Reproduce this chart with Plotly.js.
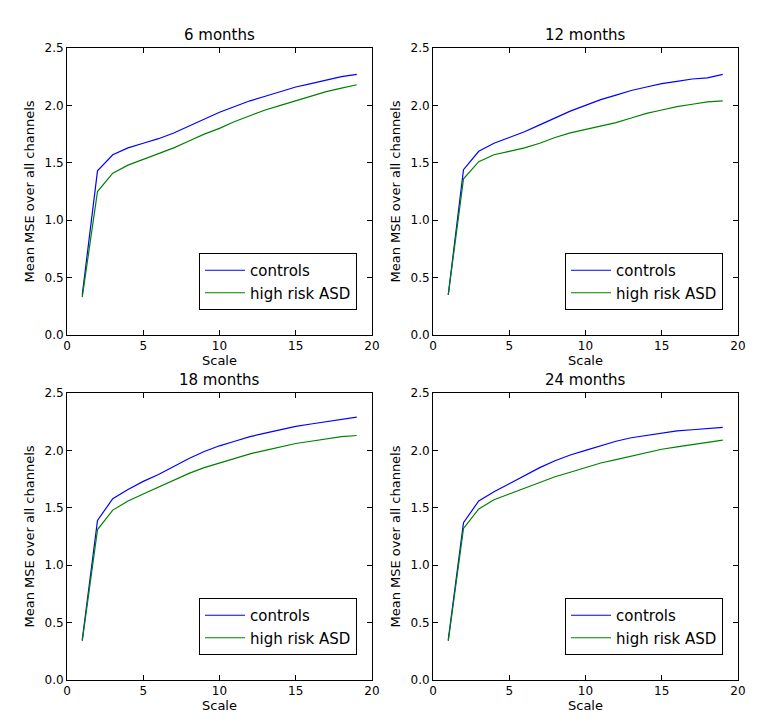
<!DOCTYPE html>
<html>
<head>
<meta charset="utf-8">
<script src="https://cdn.plot.ly/plotly-3.0.1.min.js"></script>
<style>body{margin:0;background:#fff}</style>
</head>
<body>
<div id="chart" style="width:777px;height:728px"></div>
<script>
const scales = [1,2,3,4,5,6,7,8,9,10,11,12,13,14,15,16,17,18,19];
const panelTitles = ['6 months', '12 months', '18 months', '24 months'];
const seriesNames = ['controls', 'high risk ASD'];

const controls6 = [0.35,1.43,1.57,1.63,1.67,1.71,1.76,1.82,1.88,1.94,1.99,2.04,2.08,2.12,2.16,2.19,2.22,2.25,2.27];
const highRisk6 = [0.33,1.25,1.41,1.48,1.53,1.58,1.63,1.69,1.75,1.80,1.86,1.91,1.96,2.00,2.04,2.08,2.12,2.15,2.18];
const controls12 = [0.35,1.44,1.60,1.67,1.72,1.77,1.83,1.89,1.95,2.00,2.05,2.09,2.13,2.16,2.19,2.21,2.23,2.24,2.27];
const highRisk12 = [0.35,1.36,1.51,1.57,1.60,1.63,1.67,1.72,1.76,1.79,1.82,1.85,1.89,1.93,1.96,1.99,2.01,2.03,2.04];
const controls18 = [0.35,1.39,1.58,1.66,1.73,1.79,1.86,1.93,1.99,2.04,2.08,2.12,2.15,2.18,2.21,2.23,2.25,2.27,2.29];
const highRisk18 = [0.34,1.31,1.48,1.56,1.62,1.68,1.74,1.80,1.85,1.89,1.93,1.97,2.00,2.03,2.06,2.08,2.10,2.12,2.13];
const controls24 = [0.35,1.37,1.56,1.64,1.71,1.78,1.85,1.91,1.96,2.00,2.04,2.08,2.11,2.13,2.15,2.17,2.18,2.19,2.20];
const highRisk24 = [0.34,1.32,1.49,1.57,1.62,1.67,1.72,1.77,1.81,1.85,1.89,1.92,1.95,1.98,2.01,2.03,2.05,2.07,2.09];

const panels = [[controls6, highRisk6], [controls12, highRisk12], [controls18, highRisk18], [controls24, highRisk24]];
const colors = ['#0000ff', '#008000'];

// pixel boxes of the four plot areas
const xDom = [[67/777, 372/777], [433/777, 738/777]];
const yDom = [[1-335/728, 1-48/728], [1-680/728, 1-393/728]];

const font = {family: 'DejaVu Sans', size: 13, color: '#000'};
const data = [];
const layout = {
    width: 777, height: 728,
    margin: {l: 0, r: 0, t: 0, b: 0},
    paper_bgcolor: '#fff', plot_bgcolor: '#fff',
    font: font,
    annotations: []
};

panels.forEach((p, i) => {
    const n = i === 0 ? '' : String(i + 1);
    const col = i % 2, row = Math.floor(i / 2);
    const legendName = 'legend' + n;
    p.forEach((ys, s) => {
        data.push({
            x: scales, y: ys, type: 'scatter', mode: 'lines',
            name: seriesNames[s], line: {color: colors[s], width: 1.2},
            xaxis: 'x' + n, yaxis: 'y' + n, legend: legendName
        });
    });
    const axBase = {
        showgrid: false, zeroline: false, showline: true, mirror: 'ticks',
        linecolor: '#000', linewidth: 1, ticks: 'inside', ticklen: 5,
        tickcolor: '#000', tickfont: {family: 'DejaVu Sans', size: 12}
    };
    layout['xaxis' + n] = Object.assign({}, axBase, {
        domain: xDom[col], range: [0, 20], dtick: 5, anchor: 'y' + n,
        title: {text: 'Scale', font: font, standoff: 2}
    });
    layout['yaxis' + n] = Object.assign({}, axBase, {
        domain: yDom[row], range: [0, 2.5], dtick: 0.5, tickformat: '.1f', anchor: 'x' + n,
        title: {text: 'Mean MSE over all channels', font: font, standoff: 6}
    });
    layout[legendName] = {
        x: xDom[col][0] + 132/777, y: yDom[row][1] - 205/728,
        xanchor: 'left', yanchor: 'top',
        bgcolor: '#fff', bordercolor: '#000', borderwidth: 1,
        font: {family: 'DejaVu Sans', size: 15}, tracegroupgap: 2,
        entrywidth: 145, itemwidth: 40
    };
    layout.annotations.push({
        text: panelTitles[i], xref: 'paper', yref: 'paper',
        x: (xDom[col][0] + xDom[col][1]) / 2, y: yDom[row][1],
        xanchor: 'center', yanchor: 'bottom', yshift: 2, showarrow: false,
        font: {family: 'DejaVu Sans', size: 15}
    });
});

Plotly.newPlot('chart', data, layout, {displayModeBar: false, staticPlot: true});
</script>
</body>
</html>
